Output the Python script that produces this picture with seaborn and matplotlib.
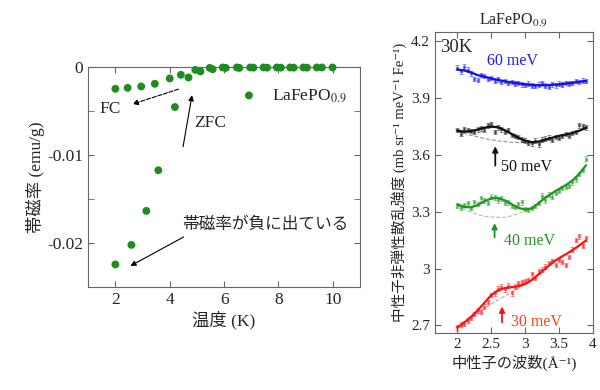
import numpy as np
import matplotlib
matplotlib.use('Agg')
import matplotlib.pyplot as plt
import seaborn as sns
from matplotlib.ticker import FuncFormatter, MultipleLocator

sns.set_style("ticks")
plt.rcParams['font.family'] = ['Liberation Serif', 'Noto Sans CJK JP', 'DejaVu Sans']
plt.rcParams['mathtext.fontset'] = 'stix'
plt.rcParams['axes.unicode_minus'] = False

# 左: 帯磁率 vs 温度 (FC と ZFC を同じ色で)
temp_k = [2.0, 2.45, 2.95, 3.45, 4.0, 4.41, 4.69, 4.94, 5.13, 5.47, 5.58,
          5.95, 6.06, 6.47, 6.56, 6.96, 7.08, 7.45, 7.58, 7.94, 8.09,
          8.43, 8.56, 8.92, 9.05, 9.41, 9.6, 9.99,
          2.0, 2.59, 3.14, 3.58, 4.19]
chi = [-0.00243, -0.00232, -0.00216, -0.00186, -0.00125, -0.00084, -0.00114,
       -0.00027, -0.00045, -0.00005, -0.0002,
       0.0, -0.00005, 0.0, -0.00005, 0.0, -0.00002, 0.0, -0.00002, 0.0, -0.00002,
       0.0, -0.00002, 0.0, -0.00002, 0.0, 0.0, 0.0,
       -0.02243, -0.0202, -0.01633, -0.0117, -0.0045]

# 右: 中性子非弾性散乱 (30K)
q_fit = [2.0, 2.1, 2.2, 2.3, 2.4, 2.5, 2.6, 2.7, 2.8, 2.9,
         3.0, 3.1, 3.2, 3.3, 3.4, 3.5, 3.6, 3.7, 3.8, 3.9]
fit_60 = [4.050, 4.045, 4.035, 4.020, 4.012, 4.003, 3.995, 3.988, 3.982, 3.977,
          3.972, 3.969, 3.967, 3.967, 3.969, 3.972, 3.976, 3.980, 3.985, 3.990]
fit_50 = [3.728, 3.722, 3.725, 3.733, 3.743, 3.749, 3.745, 3.730, 3.710, 3.690,
          3.675, 3.666, 3.670, 3.680, 3.690, 3.700, 3.707, 3.715, 3.727, 3.742]
fit_40 = [3.340, 3.325, 3.323, 3.335, 3.355, 3.370, 3.372, 3.360, 3.340, 3.320,
          3.312, 3.318, 3.345, 3.375, 3.398, 3.420, 3.440, 3.465, 3.500, 3.545]
fit_30 = [2.690, 2.715, 2.745, 2.780, 2.820, 2.860, 2.885, 2.897, 2.902, 2.907,
          2.918, 2.940, 2.970, 3.000, 3.030, 3.055, 3.075, 3.097, 3.122, 3.148]

q_bg50 = [2.0, 2.2, 2.4, 2.6, 2.8, 3.0, 3.1]
bg_50 = [3.722, 3.703, 3.686, 3.674, 3.666, 3.664, 3.665]
q_bg40 = [2.0, 2.1, 2.2, 2.3, 2.4, 2.5, 2.6, 2.7, 2.8, 2.9, 3.0, 3.1]
bg_40 = [3.335, 3.315, 3.298, 3.285, 3.276, 3.272, 3.270, 3.270, 3.278, 3.290, 3.305, 3.318]
q_bg30 = [2.2, 2.4, 2.6, 2.8, 3.0, 3.1]
bg_30 = [2.745, 2.790, 2.835, 2.875, 2.918, 2.940]

q_pts = [2.00, 2.05, 2.10, 2.15, 2.20, 2.25, 2.30, 2.35, 2.40, 2.45, 2.50, 2.55, 2.60,
         2.65, 2.70, 2.75, 2.80, 2.85, 2.90, 2.95, 3.00, 3.05, 3.10, 3.15, 3.20, 3.25,
         3.30, 3.35, 3.40, 3.45, 3.50, 3.55, 3.60, 3.65, 3.70, 3.75, 3.80, 3.85, 3.90]
pts_60 = [4.06, 4.04, 4.065, 4.05, 4.03, 4.00, 3.995, 4.02, 4.015, 4.00, 4.005, 3.99, 3.998,
          3.985, 3.99, 3.98, 3.985, 3.975, 3.98, 3.972, 3.968, 3.975, 3.965, 3.962, 3.97, 3.98,
          3.965, 3.958, 3.972, 3.966, 3.976, 3.97, 3.98, 3.975, 3.978, 3.99, 3.985, 3.992, 3.99]
pts_50 = [3.73, 3.71, 3.735, 3.73, 3.725, 3.72, 3.735, 3.74, 3.73, 3.755, 3.76, 3.72, 3.745,
          3.735, 3.72, 3.73, 3.705, 3.70, 3.695, 3.68, 3.675, 3.665, 3.66, 3.675, 3.655, 3.68,
          3.685, 3.69, 3.68, 3.695, 3.69, 3.70, 3.71, 3.70, 3.715, 3.72, 3.755, 3.75, 3.745]
pts_40 = [3.33, 3.32, 3.335, 3.345, 3.32, 3.35, 3.34, 3.37, 3.36, 3.345, 3.38, 3.375, 3.36,
          3.37, 3.345, 3.35, 3.33, 3.325, 3.34, 3.35, 3.315, 3.31, 3.32, 3.33, 3.345, 3.385,
          3.36, 3.39, 3.38, 3.40, 3.41, 3.425, 3.43, 3.435, 3.455, 3.47, 3.50, 3.52, 3.58]
pts_30 = [2.69, 2.705, 2.71, 2.725, 2.74, 2.76, 2.78, 2.77, 2.80, 2.825, 2.86, 2.87, 2.895,
          2.905, 2.89, 2.91, 2.87, 2.905, 2.925, 2.93, 2.935, 2.94, 2.97, 2.95, 2.985, 2.995,
          3.01, 3.03, 3.04, 3.02, 3.045, 3.035, 3.02, 3.06, 3.10, 3.15, 3.17, 3.12, 3.16]
err_pts = 0.012

green = '#1e8c1e'
frame = '#666666'

fig = plt.figure(figsize=(6, 3.9), dpi=100)
ax1 = fig.add_axes([0.147, 0.264, 0.453, 0.563])
ax2 = fig.add_axes([0.725, 0.146, 0.263, 0.773])

# ---- 左パネル
sns.scatterplot(x=temp_k, y=chi, ax=ax1, color=green, s=32, edgecolor='none',
                label='LaFePO$_{0.9}$', clip_on=False, zorder=3)
ax1.set_xlim(1, 11)
ax1.set_ylim(-0.025, 0)
ax1.xaxis.set_major_locator(MultipleLocator(2))
ax1.yaxis.set_major_locator(MultipleLocator(0.01))
ax1.yaxis.set_minor_locator(MultipleLocator(0.005))
ax1.yaxis.set_major_formatter(FuncFormatter(lambda v, p: '%g' % round(v, 4)))
ax1.tick_params(which='both', direction='in', top=True, right=True, length=4,
                labelsize=12.5, color=frame)
ax1.set_xlabel('温度 (K)', fontsize=12.5, labelpad=2)
ax1.set_ylabel('帯磁率 (emu/g)', fontsize=12.5, labelpad=2)
for sp in ax1.spines.values():
    sp.set_color(frame)
ax1.legend(loc='center left', bbox_to_anchor=(0.47, 0.87), frameon=False,
           fontsize=12.5, handletextpad=0.3, markerscale=1.0)

ax1.annotate('', xy=(2.63, -0.00417), xytext=(4.32, -0.00247),
             arrowprops=dict(arrowstyle='-|>', ls='--', color='k', lw=0.8,
                             mutation_scale=8, shrinkA=0, shrinkB=0))
ax1.text(1.82, -0.00474, 'FC', fontsize=12.5, ha='center', va='center')
ax1.annotate('', xy=(4.82, -0.00315), xytext=(4.49, -0.00902),
             arrowprops=dict(arrowstyle='-|>', color='k', lw=0.8,
                             mutation_scale=8, shrinkA=0, shrinkB=0))
ax1.text(5.49, -0.00636, 'ZFC', fontsize=12.5, ha='center', va='center')
ax1.annotate('', xy=(2.55, -0.0226), xytext=(4.51, -0.0193),
             arrowprops=dict(arrowstyle='-|>', color='k', lw=0.8,
                             mutation_scale=8, shrinkA=0, shrinkB=0))
ax1.text(7.51, -0.0179, '帯磁率が負に出ている', fontsize=12, ha='center', va='center')

# ---- 右パネル
curves = [
    (pts_60, fit_60, None, None, '#1010ee'),
    (pts_50, fit_50, q_bg50, bg_50, '#111111'),
    (pts_40, fit_40, q_bg40, bg_40, '#1e961e'),
    (pts_30, fit_30, q_bg30, bg_30, '#ff1010'),
]
for pts, fit, qb, bg, col in curves:
    ax2.errorbar(q_pts, pts, yerr=err_pts, fmt='s', ms=2, color=col, alpha=0.45,
                 elinewidth=0.7, capsize=1.2, capthick=0.7, zorder=2)
    sns.lineplot(x=q_fit, y=fit, ax=ax2, color=col, lw=1.6, zorder=3)
    if qb is not None:
        sns.lineplot(x=qb, y=bg, ax=ax2, color=col, lw=0.8, ls='--', alpha=0.45, zorder=2)

ax2.text(2.81, 4.093, '60 meV', color='#1a1aff', fontsize=11.5, ha='center', va='center')
ax2.text(2.65, 3.535, '50 meV', color='#111111', fontsize=11.5, ha='left', va='center')
ax2.text(2.69, 3.148, '40 meV', color='#1e961e', fontsize=11.5, ha='left', va='center')
ax2.text(2.79, 2.717, '30 meV', color='#ff4020', fontsize=11.5, ha='left', va='center')
for xq, y0, y1, col in [(2.56, 3.543, 3.645, '#111111'), (2.55, 3.165, 3.24, '#1e961e'),
                        (2.66, 2.717, 2.80, '#ff1010')]:
    ax2.annotate('', xy=(xq, y1), xytext=(xq, y0),
                 arrowprops=dict(arrowstyle='-|>', color=col, lw=1.3,
                                 mutation_scale=8, shrinkA=0, shrinkB=0))

ax2.text(0.035, 0.975, '30K', transform=ax2.transAxes, fontsize=13.5, ha='left', va='top')
ax2.set_title('LaFePO$_{0.9}$', fontsize=11.5, pad=5)
ax2.set_xlim(1.67, 4.0)
ax2.set_ylim(2.66, 4.25)
ax2.xaxis.set_major_locator(MultipleLocator(0.5))
ax2.yaxis.set_major_locator(MultipleLocator(0.3))
ax2.xaxis.set_major_formatter(FuncFormatter(lambda v, p: '%g' % round(v, 2)))
ax2.yaxis.set_major_formatter(FuncFormatter(lambda v, p: '%g' % round(v, 2)))
ax2.tick_params(direction='in', top=True, right=True, length=4, labelsize=11, color=frame)
ax2.set_xlabel('中性子の波数(Å⁻¹)', fontsize=11, labelpad=3)
ax2.set_ylabel('中性子非弾性散乱強度 (mb sr⁻¹ meV⁻¹ Fe⁻¹)', fontsize=10.5, labelpad=3)
for sp in ax2.spines.values():
    sp.set_color(frame)

fig.savefig('out.png', dpi=100)
